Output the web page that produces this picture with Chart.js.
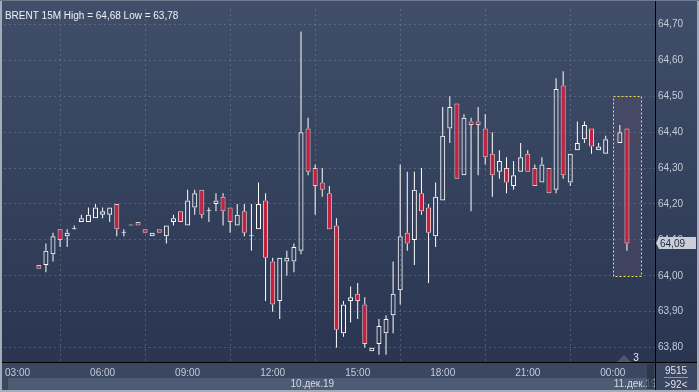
<!DOCTYPE html>
<html>
<head>
<meta charset="utf-8">
<script src="https://cdn.jsdelivr.net/npm/chart.js@4.4.1/dist/chart.umd.min.js"></script>
<style>
html, body { margin: 0; padding: 0; background: #2b3752; }
canvas { display: block; }
</style>
</head>
<body>
<canvas id="chartBrent" width="699" height="392"></canvas>
<script>
// BRENT 15M, 10-11 dec 2019
var barTimes = ['03:45', '04:00', '04:15', '04:30', '04:45', '05:00', '05:15', '05:30', '05:45', '06:00',
    '06:15', '06:30', '06:45', '07:00', '07:15', '07:30', '07:45', '08:00', '08:15', '08:30',
    '08:45', '09:00', '09:15', '09:30', '09:45', '10:00', '10:15', '10:30', '10:45', '11:00',
    '11:15', '11:30', '11:45', '12:00', '12:15', '12:30', '12:45', '13:00', '13:15', '13:30',
    '13:45', '14:00', '14:15', '14:30', '14:45', '15:00', '15:15', '15:30', '15:45', '16:00',
    '16:15', '16:30', '16:45', '17:00', '17:15', '17:30', '17:45', '18:00', '18:15', '18:30',
    '18:45', '19:00', '19:15', '19:30', '19:45', '20:00', '20:15', '20:30', '20:45', '21:00',
    '21:15', '21:30', '21:45', '22:00', '22:15', '22:30', '22:45', '23:00', '23:15', '23:30',
    '23:45', '00:15', '00:30'];

var openValues = [64.03, 64.03, 64.06, 64.13, 64.11, 64.13, 64.15, 64.15, 64.16, 64.17,
    64.17, 64.20, 64.12, 64.14, 64.15, 64.13, 64.11, 64.13, 64.11, 64.15,
    64.18, 64.14, 64.19, 64.24, 64.18, 64.20, 64.22, 64.19, 64.14, 64.18,
    64.11, 64.13, 64.21, 64.04, 63.93, 64.04, 64.04, 64.07, 64.41, 64.30,
    64.26, 64.23, 64.14, 63.84, 63.93, 63.95, 63.92, 63.79, 63.81, 63.84,
    63.89, 63.96, 64.12, 64.10, 64.23, 64.19, 64.11, 64.21, 64.41, 64.48,
    64.28, 64.43, 64.43, 64.41, 64.34, 64.29, 64.30, 64.25, 64.29, 64.34,
    64.30, 64.26, 64.30, 64.24, 64.53, 64.26, 64.35, 64.38, 64.41, 64.35,
    64.34, 64.37, 64.41];

var highValues = [64.03, 64.09, 64.12, 64.13, 64.13, 64.14, 64.17, 64.19, 64.20, 64.19,
    64.19, 64.20, 64.13, 64.14, 64.15, 64.13, 64.12, 64.13, 64.14, 64.17,
    64.18, 64.24, 64.24, 64.24, 64.19, 64.23, 64.23, 64.19, 64.20, 64.20,
    64.20, 64.26, 64.23, 64.05, 64.05, 64.07, 64.09, 64.68, 64.44, 64.31,
    64.30, 64.25, 64.16, 63.93, 63.97, 63.98, 63.94, 63.80, 63.88, 63.89,
    64.04, 64.31, 64.29, 64.29, 64.30, 64.20, 64.26, 64.47, 64.50, 64.48,
    64.45, 64.44, 64.47, 64.45, 64.40, 64.35, 64.33, 64.32, 64.37, 64.35,
    64.31, 64.33, 64.30, 64.55, 64.57, 64.34, 64.43, 64.43, 64.41, 64.37,
    64.39, 64.42, 64.41];

var lowValues = [64.02, 64.01, 64.04, 64.08, 64.08, 64.13, 64.15, 64.15, 64.16, 64.16,
    64.15, 64.11, 64.11, 64.14, 64.14, 64.12, 64.11, 64.12, 64.09, 64.14,
    64.15, 64.14, 64.17, 64.16, 64.15, 64.18, 64.14, 64.12, 64.14, 64.11,
    64.07, 64.13, 63.93, 63.90, 63.88, 64.00, 64.01, 64.06, 64.28, 64.17,
    64.22, 64.13, 63.80, 63.83, 63.87, 63.88, 63.80, 63.79, 63.78, 63.78,
    63.84, 63.92, 64.07, 64.03, 64.17, 63.98, 64.08, 64.21, 64.37, 64.27,
    64.28, 64.18, 64.28, 64.31, 64.22, 64.27, 64.23, 64.24, 64.29, 64.29,
    64.25, 64.26, 64.23, 64.23, 64.27, 64.25, 64.35, 64.37, 64.34, 64.35,
    64.34, 64.37, 64.07];

var closeValues = [64.02, 64.07, 64.11, 64.10, 64.12, 64.13, 64.16, 64.17, 64.19, 64.18,
    64.19, 64.13, 64.12, 64.14, 64.14, 64.12, 64.12, 64.12, 64.14, 64.16,
    64.15, 64.21, 64.23, 64.17, 64.18, 64.21, 64.18, 64.15, 64.17, 64.12,
    64.11, 64.20, 64.05, 63.92, 64.05, 64.05, 64.08, 64.40, 64.29, 64.25,
    64.24, 64.13, 63.85, 63.92, 63.94, 63.93, 63.81, 63.80, 63.86, 63.88,
    63.95, 64.11, 64.09, 64.24, 64.18, 64.12, 64.22, 64.39, 64.47, 64.27,
    64.44, 64.42, 64.42, 64.33, 64.28, 64.32, 64.26, 64.28, 64.33, 64.29,
    64.25, 64.31, 64.23, 64.52, 64.28, 64.34, 64.37, 64.42, 64.36, 64.36,
    64.38, 64.40, 64.09];

var xTickLabels = ['03:00', '06:00', '09:00', '12:00', '15:00', '18:00', '21:00', '00:00'];
var yTickValues = [63.8, 63.9, 64.0, 64.1, 64.2, 64.3, 64.4, 64.5, 64.6, 64.7];
var dayLabels = ['10.дек.19', '11.дек.19'];
var highlightSlots = [84, 88];
var highlightPrices = [64.00, 64.50];

var titleText = 'BRENT 15M High = 64,68 Low = 63,78';

// slot = number of 15 min bars since 03:00
function slotOf(t) {
    var p = t.split(':');
    var m = parseInt(p[0], 10) * 60 + parseInt(p[1], 10) - 180;
    if (m < 0) m += 1440;
    return m / 15;
}

function fmt(v) {
    return v.toFixed(2).replace('.', ',');
}

function buildCandles() {
    var res = { bodies: [], upper: [], lower: [], fill: [], line: [] };
    for (var i = 0; i < barTimes.length; i++) {
        var slot = slotOf(barTimes[i]);
        var hiBody = Math.max(openValues[i], closeValues[i]);
        var loBody = Math.min(openValues[i], closeValues[i]);
        res.bodies.push({ x: slot, y: [loBody, hiBody] });
        res.upper.push({ x: slot, y: [hiBody, highValues[i]] });
        res.lower.push({ x: slot, y: [lowValues[i], loBody] });
        if (closeValues[i] < openValues[i]) {
            res.fill.push('#c81f3d');
            res.line.push('#f3c6cf');
        } else {
            res.fill.push('rgba(0,0,0,0)');
            res.line.push('#ffffff');
        }
    }
    return res;
}

var candles = buildCandles();

var gridColor = 'rgba(125,140,168,0.45)';
var labelColor = '#c4ccd9';
var uiFont = "10px 'Liberation Sans', Arial, sans-serif";

var chromePlugin = {
    id: 'chrome',
    beforeDraw: function(chart) {
        var c = chart.ctx, a = chart.chartArea, w = chart.width, h = chart.height;
        c.save();
        var g = c.createLinearGradient(0, 0, 0, a.bottom);
        g.addColorStop(0, '#404e69');
        g.addColorStop(1, '#2a3651');
        c.fillStyle = g;
        c.fillRect(0, 0, w, h);
        c.fillStyle = '#3b4760';
        c.fillRect(0, a.bottom, w, h - a.bottom);
        c.fillStyle = '#4e5b75';
        c.fillRect(8, 378, a.right - 8, 12);
        c.restore();
    },
    beforeDatasetsDraw: function(chart) {
        var c = chart.ctx, xs = chart.scales.x, ys = chart.scales.y;
        var x1 = Math.round(xs.getPixelForValue(highlightSlots[0]));
        var x2 = Math.round(xs.getPixelForValue(highlightSlots[1]));
        var y1 = Math.round(ys.getPixelForValue(highlightPrices[1]));
        var y2 = Math.round(ys.getPixelForValue(highlightPrices[0]));
        c.save();
        c.fillStyle = 'rgba(95,80,110,0.35)';
        c.fillRect(x1, y1, x2 - x1, y2 - y1);
        c.strokeStyle = '#e4e05a';
        c.lineWidth = 1;
        c.setLineDash([2, 2]);
        c.strokeRect(x1 + 0.5, y1 + 0.5, x2 - x1, y2 - y1);
        c.restore();
    },
    afterDraw: function(chart) {
        var c = chart.ctx, a = chart.chartArea, w = chart.width, h = chart.height;
        var xs = chart.scales.x, ys = chart.scales.y;
        c.save();
        c.font = uiFont;

        // title
        c.fillStyle = '#eef1f6';
        c.textBaseline = 'top';
        c.textAlign = 'left';
        c.fillText(titleText, a.left + 1, a.top + 2);

        // day labels in the lower band
        var dayX = xs.getPixelForValue(highlightSlots[0]);
        c.fillStyle = '#d6dbe4';
        c.textBaseline = 'middle';
        c.textAlign = 'center';
        c.fillText(dayLabels[0], (a.left + dayX) / 2 + 4, 384);
        c.save();
        c.beginPath();
        c.rect(dayX, 378, a.right - dayX, 12);
        c.clip();
        c.textAlign = 'left';
        c.fillText(dayLabels[1], dayX + 1, 384);
        c.restore();
        c.fillStyle = 'rgba(40,50,68,0.75)';
        c.fillRect(a.right - 8, 364, 7, 25);

        // last price tag
        var last = closeValues[closeValues.length - 1];
        var yy = Math.round(ys.getPixelForValue(last));
        c.fillStyle = '#c9ced7';
        c.beginPath();
        c.moveTo(a.right + 1, yy);
        c.lineTo(a.right + 4, yy - 6);
        c.lineTo(w - 3, yy - 6);
        c.lineTo(w - 3, yy + 6);
        c.lineTo(a.right + 4, yy + 6);
        c.closePath();
        c.fill();
        c.fillStyle = '#1f2739';
        c.textAlign = 'left';
        c.fillText(fmt(last), a.right + 5, yy + 1);

        // bottom right panel
        c.fillStyle = '#dfe3ea';
        c.textAlign = 'center';
        var cx = (a.right + w - 2) / 2;
        c.fillText('9515', cx, 371);
        c.fillText('>92<', cx, 385);
        c.fillStyle = '#8e98aa';
        c.fillRect(cx - 12, 377, 24, 1);

        // bar counter near the cursor
        c.fillStyle = 'rgba(120,130,150,0.45)';
        c.beginPath();
        c.moveTo(617, a.bottom);
        c.lineTo(624, a.bottom - 7);
        c.lineTo(631, a.bottom);
        c.closePath();
        c.fill();
        c.fillStyle = '#e8ebf0';
        c.fillText('3', 636, a.bottom - 4);

        // separators
        c.fillStyle = '#000000';
        c.fillRect(a.right, 0, 1, h);
        c.fillRect(0, a.bottom, w, 1);

        // frame
        c.fillStyle = '#a4acb9';
        c.fillRect(0, 0, 2, h);
        c.fillRect(w - 2, 0, 2, h);
        c.fillRect(0, h - 2, w, 2);
        c.fillStyle = '#6f7a8e';
        c.fillRect(0, 0, w, 1);
        c.restore();
    }
};

Chart.defaults.font.family = "'Liberation Sans', Arial, sans-serif";
Chart.defaults.font.size = 10;

var ctx = document.getElementById('chartBrent').getContext('2d');
var brentChart = new Chart(ctx, {
    type: 'bar',
    data: {
        datasets: [{
            label: 'body',
            data: candles.bodies,
            stack: 'candle',
            backgroundColor: candles.fill,
            borderColor: candles.line,
            borderWidth: 1,
            borderSkipped: false,
            inflateAmount: 0,
            minBarLength: 1,
            barThickness: 5
        }, {
            label: 'upper',
            data: candles.upper,
            stack: 'candle',
            backgroundColor: '#ffffff',
            borderWidth: 0,
            inflateAmount: 0,
            barThickness: 1
        }, {
            label: 'lower',
            data: candles.lower,
            stack: 'candle',
            backgroundColor: '#ffffff',
            borderWidth: 0,
            inflateAmount: 0,
            barThickness: 1
        }]
    },
    options: {
        responsive: false,
        animation: false,
        devicePixelRatio: 1,
        layout: { padding: { left: 3, top: 2, right: 2, bottom: 2 } },
        plugins: {
            legend: { display: false },
            tooltip: { enabled: false },
            title: { display: false }
        },
        scales: {
            x: {
                type: 'linear',
                min: -1.93,
                max: 89.96,
                offset: false,
                afterFit: function(scale) { scale.height = 28; },
                afterBuildTicks: function(scale) {
                    scale.ticks = xTickLabels.map(function(t) { return { value: slotOf(t) }; });
                },
                ticks: {
                    color: labelColor,
                    padding: 5,
                    maxRotation: 0,
                    autoSkip: false,
                    callback: function(v) {
                        for (var k = 0; k < xTickLabels.length; k++) {
                            if (slotOf(xTickLabels[k]) === v) return xTickLabels[k];
                        }
                        return '';
                    }
                },
                grid: { color: gridColor, lineWidth: 1, drawTicks: false },
                border: { display: false, dash: [2, 3] }
            },
            y: {
                position: 'right',
                stacked: false,
                min: 63.76,
                max: 64.743,
                afterFit: function(scale) { scale.width = 42; },
                afterBuildTicks: function(scale) {
                    scale.ticks = yTickValues.map(function(v) { return { value: v }; });
                },
                ticks: {
                    color: labelColor,
                    padding: 3,
                    callback: function(v) { return fmt(v); }
                },
                grid: { color: gridColor, lineWidth: 1, drawTicks: false },
                border: { display: false, dash: [2, 3] }
            }
        }
    },
    plugins: [chromePlugin]
});
</script>
</body>
</html>
